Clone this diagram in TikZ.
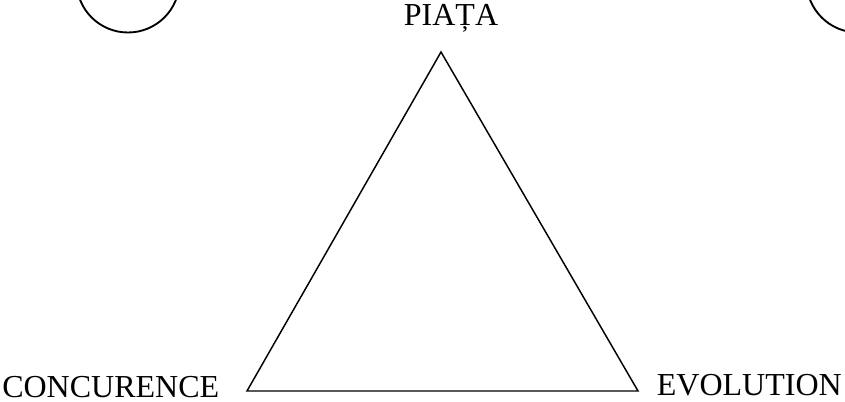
\documentclass[tikz,border=0pt]{standalone}
\usepackage{fontspec}
\setmainfont{Liberation Serif}
\usepackage{xcolor}
\definecolor{linecolor}{RGB}{0,0,0}
\definecolor{labelcolor}{RGB}{0,0,0}

\begin{document}
\begin{tikzpicture}[x=0.75pt, y=-0.75pt,
  corner/.style={font=\fontsize{24}{29}\selectfont, text=labelcolor, inner sep=0pt}]

% 1. PAGE FRAME
\useasboundingbox (0,0) rectangle (845,402);
\clip (0,0) rectangle (845,402);

% 2. CORNER CIRCLES (cut off at the top)
\draw[linecolor, line width=1.4pt] (128,-19) circle (51.5);
\draw[linecolor, line width=1.4pt] (858,-19) circle (51.5);

% 3. TRIANGLE
\coordinate (top) at (441,52);
\coordinate (left) at (247,391);
\coordinate (right) at (638,391);
\draw[linecolor, line width=1.1pt, line join=miter] (top) -- (left) -- (right) -- cycle;

% 4. LABELS
\node[corner, anchor=base] (piata) at (451,26) {PIAȚA};
\node[corner, anchor=base west] (concurence) at (2,397) {CONCURENCE};
\node[corner, anchor=base east] (evolution) at (842,395) {EVOLUTION};

\end{tikzpicture}
\end{document}
